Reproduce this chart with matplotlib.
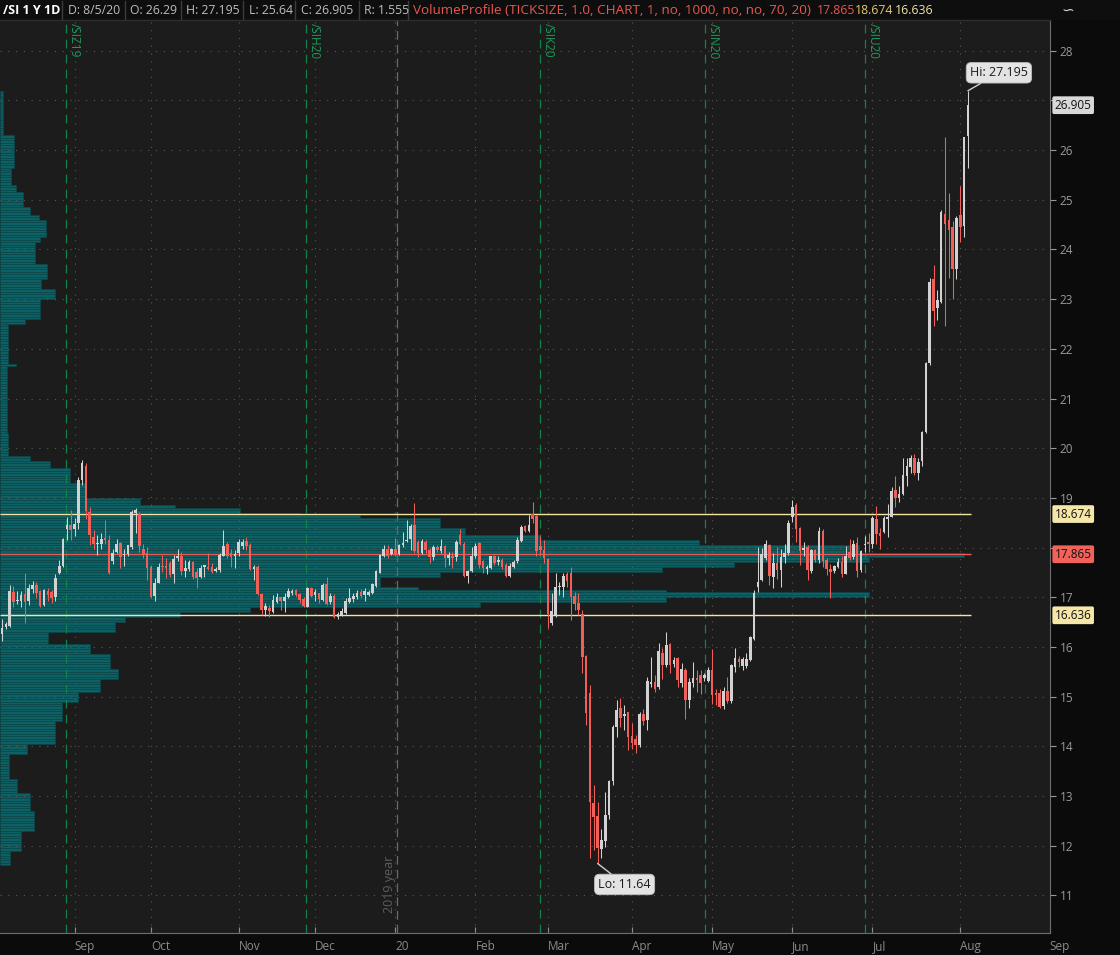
import numpy as np
import matplotlib
matplotlib.use("Agg")
import matplotlib.pyplot as plt
from matplotlib.patches import Rectangle
from matplotlib.lines import Line2D

plt.rcParams['font.family'] = ['Open Sans', 'DejaVu Sans']

# /SI daily bars, 6 Aug 2019 .. 5 Aug 2020 (x = trading-day index)
opens = [16.25, 16.41, 16.43, 17.10, 16.93, 16.93, 17.06, 16.92, 17.16, 17.24,
         17.12, 16.84, 17.13, 17.10, 17.01, 17.49, 17.63, 18.37, 18.45, 18.37,
         18.50, 19.35, 19.65, 18.72, 18.21, 18.07, 18.07, 18.19, 18.15, 17.73,
         17.92, 18.10, 17.85, 17.87, 18.02, 18.70, 18.67, 17.98, 17.90, 17.60,
         17.03, 17.29, 17.63, 17.63, 17.68, 17.47, 17.78, 17.82, 17.53, 17.56,
         17.70, 17.51, 17.41, 17.61, 17.61, 17.60, 17.53, 17.55, 17.83, 18.07,
         17.90, 17.83, 17.88, 18.03, 18.13, 18.05, 17.56, 17.61, 17.06, 16.74,
         16.79, 16.71, 16.91, 17.00, 16.93, 17.00, 17.09, 17.14, 17.06, 16.96,
         16.81, 17.19, 17.04, 17.08, 16.94, 17.26, 16.90, 17.03, 16.61, 16.64,
         16.69, 16.91, 16.96, 17.00, 17.10, 17.04, 17.04, 17.08, 17.23, 17.49,
         17.82, 17.98, 17.87, 17.98, 17.87, 18.05, 18.14, 18.17, 18.45, 18.12,
         17.90, 18.12, 17.96, 17.80, 18.02, 17.94, 18.03, 17.78, 17.83, 17.80,
         18.25, 18.08, 17.43, 17.53, 17.83, 18.10, 17.72, 17.57, 17.59, 17.82,
         17.70, 17.75, 17.65, 17.43, 17.61, 17.72, 18.14, 18.43, 18.34, 18.67,
         18.63, 18.03, 17.95, 17.77, 16.49, 16.64, 17.20, 17.21, 17.46, 17.48,
         17.02, 16.88, 16.67, 15.81, 15.08, 12.86, 12.59, 11.94, 12.09, 12.61,
         13.30, 14.39, 14.77, 14.61, 14.69, 14.21, 14.14, 14.02, 14.64, 14.53,
         15.26, 15.30, 15.20, 15.88, 15.63, 16.06, 15.65, 15.77, 15.28, 15.53,
         14.94, 15.28, 15.38, 15.44, 15.38, 15.32, 15.53, 15.08, 15.08, 14.81,
         15.11, 14.91, 15.60, 15.76, 15.61, 15.61, 15.73, 16.16, 17.21, 17.35,
         17.78, 18.05, 17.41, 17.68, 17.55, 17.80, 17.88, 18.61, 18.86, 18.39,
         17.95, 18.02, 17.53, 17.95, 17.74, 18.33, 17.75, 17.56, 17.52, 17.61,
         17.71, 17.47, 17.92, 17.80, 18.10, 17.55, 18.05, 18.12, 18.07, 18.57,
         18.30, 18.32, 18.57, 18.62, 19.16, 19.00, 19.07, 19.44, 19.63, 19.81,
         19.51, 19.75, 20.33, 21.71, 23.40, 22.82, 22.95, 24.72, 24.60, 24.45,
         23.60, 24.70, 24.47, 26.29]
highs = [16.57, 16.51, 17.24, 17.23, 17.13, 17.12, 17.48, 17.26, 17.33, 17.31,
         17.14, 17.16, 17.18, 17.14, 17.46, 17.75, 18.20, 18.61, 18.76, 18.59,
         19.43, 19.76, 19.70, 18.82, 18.35, 18.25, 18.29, 18.55, 18.25, 17.98,
         18.18, 18.12, 17.98, 18.05, 18.76, 18.79, 18.72, 18.08, 18.02, 17.65,
         17.38, 17.68, 17.85, 17.78, 17.72, 17.85, 17.98, 17.92, 17.75, 17.75,
         17.72, 17.58, 17.65, 17.65, 17.88, 17.68, 17.61, 17.88, 18.35, 18.12,
         17.98, 17.95, 18.18, 18.18, 18.22, 18.10, 17.65, 17.65, 17.08, 16.88,
         16.84, 17.04, 17.08, 17.01, 17.08, 17.18, 17.17, 17.16, 17.09, 17.01,
         17.21, 17.21, 17.16, 17.09, 17.28, 17.41, 17.08, 17.06, 16.71, 16.78,
         16.98, 17.18, 17.08, 17.14, 17.16, 17.18, 17.14, 17.29, 17.55, 17.86,
         18.05, 18.05, 18.00, 18.19, 18.08, 18.32, 18.55, 18.47, 18.89, 18.15,
         18.18, 18.15, 18.00, 18.05, 18.05, 18.18, 18.05, 17.92, 17.92, 18.15,
         18.37, 18.12, 17.55, 18.02, 18.10, 18.12, 17.75, 17.65, 17.83, 17.85,
         17.82, 17.78, 17.68, 17.68, 17.75, 18.22, 18.45, 18.45, 18.65, 18.92,
         18.65, 18.23, 18.15, 17.78, 17.08, 17.48, 17.31, 17.48, 17.51, 17.61,
         17.11, 17.09, 16.74, 15.83, 15.23, 13.22, 12.88, 12.34, 13.08, 13.32,
         14.42, 14.93, 14.98, 14.83, 14.69, 14.46, 14.22, 14.69, 14.74, 15.40,
         15.80, 15.43, 16.08, 15.97, 16.30, 16.08, 15.80, 15.79, 15.68, 15.57,
         15.37, 15.70, 15.53, 15.53, 15.47, 15.59, 15.95, 15.16, 15.16, 15.20,
         15.39, 15.65, 15.97, 15.81, 15.80, 15.87, 16.22, 17.14, 18.02, 18.00,
         18.16, 18.08, 17.88, 18.02, 17.98, 18.08, 18.55, 18.96, 18.90, 18.41,
         18.12, 18.05, 17.98, 17.98, 18.41, 18.37, 17.78, 17.66, 17.65, 17.78,
         17.82, 18.03, 18.18, 18.15, 18.22, 17.95, 18.23, 18.29, 18.64, 18.84,
         18.39, 18.63, 18.88, 19.21, 19.44, 19.23, 19.80, 19.80, 19.86, 19.88,
         19.80, 20.35, 21.74, 23.42, 23.68, 23.19, 24.80, 26.27, 25.13, 24.58,
         24.68, 25.27, 26.27, 27.195]
lows = [16.12, 16.35, 16.41, 16.81, 16.86, 16.81, 16.49, 16.84, 17.08, 16.98,
        16.81, 16.82, 16.93, 16.89, 16.93, 17.47, 17.61, 18.15, 18.15, 18.23,
        18.37, 19.26, 18.57, 18.05, 17.98, 17.85, 17.98, 18.08, 17.47, 17.67,
        17.90, 17.58, 17.63, 17.82, 17.98, 18.29, 17.92, 17.78, 17.35, 16.98,
        16.93, 17.28, 17.51, 17.38, 17.41, 17.29, 17.73, 17.45, 17.41, 17.53,
        17.36, 17.18, 17.38, 17.41, 17.55, 17.49, 17.51, 17.51, 17.82, 17.78,
        17.60, 17.58, 17.82, 17.98, 17.95, 17.55, 17.35, 17.04, 16.64, 16.62,
        16.61, 16.69, 16.89, 16.75, 16.71, 16.98, 17.04, 17.02, 16.89, 16.81,
        16.81, 17.01, 16.93, 16.88, 16.93, 16.84, 16.86, 16.59, 16.56, 16.62,
        16.67, 16.89, 16.90, 16.96, 16.98, 16.93, 17.02, 17.06, 17.20, 17.48,
        17.80, 17.78, 17.85, 17.83, 17.85, 18.02, 18.12, 17.96, 17.88, 17.80,
        17.87, 17.90, 17.68, 17.75, 17.92, 17.88, 17.61, 17.65, 17.58, 17.72,
        18.05, 17.41, 17.28, 17.51, 17.78, 17.58, 17.49, 17.47, 17.56, 17.65,
        17.65, 17.56, 17.41, 17.41, 17.58, 17.68, 18.12, 18.32, 18.32, 18.50,
        17.82, 17.85, 17.68, 16.39, 16.44, 16.61, 17.04, 17.01, 17.21, 16.54,
        16.74, 16.64, 15.47, 14.42, 11.74, 11.91, 11.64, 11.74, 11.97, 12.54,
        13.22, 14.19, 14.39, 14.32, 13.93, 13.95, 13.87, 13.99, 14.42, 14.32,
        15.20, 15.10, 15.16, 15.36, 15.60, 15.47, 15.60, 15.20, 15.20, 14.54,
        14.76, 15.20, 15.10, 15.06, 15.32, 15.30, 14.85, 14.83, 14.76, 14.74,
        14.87, 14.88, 15.50, 15.60, 15.53, 15.57, 15.72, 16.14, 17.11, 17.33,
        17.74, 17.25, 17.18, 17.36, 17.21, 17.68, 17.85, 18.52, 18.12, 17.65,
        17.83, 17.35, 17.48, 17.70, 17.68, 17.60, 17.45, 16.98, 17.49, 17.58,
        17.40, 17.46, 17.75, 17.76, 17.41, 17.51, 17.92, 17.92, 18.00, 18.08,
        17.98, 18.29, 18.22, 18.61, 18.82, 18.92, 19.06, 19.23, 19.51, 19.46,
        19.35, 19.64, 20.31, 21.68, 22.46, 22.58, 22.92, 22.45, 23.42, 23.00,
        23.40, 24.16, 24.25, 25.64]
closes = [16.39, 16.47, 17.12, 16.90, 16.94, 17.04, 16.90, 17.18, 17.24, 17.08,
          16.83, 17.14, 17.04, 16.99, 17.39, 17.63, 18.17, 18.45, 18.35, 18.47,
          19.36, 19.71, 18.74, 18.25, 18.07, 18.08, 18.18, 18.15, 17.48, 17.90,
          18.08, 17.80, 17.86, 18.05, 18.72, 18.76, 18.03, 17.85, 17.58, 17.01,
          17.29, 17.60, 17.60, 17.59, 17.45, 17.77, 17.82, 17.53, 17.58, 17.70,
          17.41, 17.38, 17.58, 17.64, 17.56, 17.51, 17.57, 17.84, 18.03, 17.83,
          17.80, 17.87, 18.12, 18.11, 18.04, 17.56, 17.61, 17.06, 16.74, 16.82,
          16.72, 16.94, 17.01, 16.92, 17.01, 17.12, 17.12, 17.04, 16.94, 16.83,
          17.18, 17.03, 17.10, 16.96, 17.25, 16.86, 17.03, 16.61, 16.66, 16.72,
          16.92, 16.98, 17.02, 17.09, 17.03, 17.12, 17.11, 17.27, 17.53, 17.85,
          17.98, 17.82, 17.98, 17.87, 18.06, 18.10, 18.16, 18.43, 17.94, 17.90,
          18.13, 17.95, 17.80, 18.02, 17.95, 18.04, 17.78, 17.84, 17.78, 18.12,
          18.08, 17.43, 17.53, 17.83, 18.03, 17.65, 17.58, 17.60, 17.82, 17.68,
          17.75, 17.61, 17.43, 17.63, 17.71, 18.15, 18.42, 18.34, 18.45, 18.57,
          17.94, 17.95, 17.78, 16.67, 16.72, 17.21, 17.23, 17.43, 17.33, 17.01,
          16.86, 16.74, 15.80, 14.67, 12.88, 12.58, 11.96, 12.12, 12.61, 13.30,
          14.39, 14.73, 14.57, 14.65, 14.19, 14.07, 14.02, 14.64, 14.51, 15.31,
          15.29, 15.16, 15.92, 15.63, 16.04, 15.63, 15.73, 15.33, 15.55, 14.94,
          15.30, 15.38, 15.34, 15.28, 15.43, 15.53, 15.04, 15.03, 14.79, 15.11,
          14.91, 15.63, 15.77, 15.69, 15.75, 15.75, 16.20, 17.09, 17.31, 17.87,
          18.07, 17.43, 17.69, 17.55, 17.80, 17.90, 18.49, 18.81, 18.38, 17.94,
          18.00, 17.55, 17.95, 17.74, 18.33, 17.73, 17.56, 17.51, 17.63, 17.71,
          17.47, 17.83, 17.78, 18.08, 17.53, 17.93, 18.08, 18.07, 18.59, 18.27,
          18.23, 18.60, 18.62, 19.14, 19.00, 19.08, 19.46, 19.64, 19.81, 19.51,
          19.73, 20.33, 21.72, 23.34, 22.77, 22.98, 24.75, 24.52, 24.39, 23.60,
          24.63, 24.45, 26.26, 26.905]

month_ticks = [19, 39, 62, 82, 103, 124, 143, 165, 186, 207, 228, 251, 274.4]
month_labels = ['Sep', 'Oct', 'Nov', 'Dec', '20', 'Feb', 'Mar', 'Apr', 'May',
                'Jun', 'Jul', 'Aug', 'Sep']
rollover_pos = [16.8, 79.6, 140.9, 184.1, 226.0]
rollover_names = ['/SIZ19', '/SIH20', '/SIK20', '/SIN20', '/SIU20']
year_break = 103.5

poc = 17.865
va_high = 18.674
va_low = 16.636

# volume profile: band edges (price) and relative volume per band
profile_edges = [11.60, 11.90, 12.30, 12.70, 13.05, 13.35, 13.85, 14.05, 14.50, 14.90,
                 15.10, 15.35, 15.55, 15.85, 16.05, 16.30, 16.50, 16.60, 16.70, 16.80,
                 16.90, 16.98, 17.10, 17.15, 17.20, 17.40, 17.50, 17.60, 17.70, 17.80,
                 17.90, 18.05, 18.15, 18.25, 18.40, 18.60, 18.65, 18.72, 18.80, 18.86,
                 19.00, 19.30, 19.60, 19.76, 19.86, 20.30, 21.65, 21.72, 22.48, 22.58,
                 23.00, 23.20, 23.40, 23.70, 24.13, 24.23, 24.60, 24.70, 24.85, 25.15,
                 25.30, 25.65, 26.30, 27.20]
profile_volume = [10, 21, 34, 30, 17, 9, 27, 55, 62, 78,
                  100, 118, 110, 90, 48, 115, 125, 180, 250, 480,
                  667, 870, 667, 418, 380, 440, 663, 735, 870, 965,
                  860, 700, 540, 465, 440, 360, 300, 240, 175, 140,
                  85, 70, 50, 30, 8, 7, 16, 8, 25, 40,
                  55, 41, 47, 35, 40, 46, 39, 30, 23, 16,
                  11, 14, 3]

W, H = 1120, 955
fig = plt.figure(figsize=(W / 100, H / 100), dpi=100)
fig.patch.set_facecolor('#0b0b0b')
ax = fig.add_axes([0, 22 / H, 1050 / W, 913 / H])
ax.set_facecolor('#1c1c1c')
x0, x1 = -0.52, 274.5
ax.set_xlim(x0, x1)
ax.set_ylim(10.24, 28.62)

# profile rows
edges = np.array(profile_edges)
vols = np.array(profile_volume, dtype=float)
row = 0.05
levels = np.arange(edges[0], edges[-1] - 1e-9, row)
band = np.clip(np.searchsorted(edges, levels + row / 2) - 1, 0, len(vols) - 1)
widths = vols[band] / vols.max() * 252.5
ax.barh(levels + row / 2, widths, height=row, left=x0, color='#0d6063',
        edgecolor='#0a474a', linewidth=0.4, zorder=1)

# dotted grid
for v in range(11, 29):
    ax.axhline(v, color='#585858', lw=0.8, ls=(0, (1, 6)), zorder=2)
for m in month_ticks[:-1]:
    ax.axvline(m, color='#585858', lw=0.8, ls=(0, (1, 6)), zorder=2)

# contract rollovers and year break
for pos, name in zip(rollover_pos, rollover_names):
    ax.axvline(pos, color='#13814a', lw=0.9, ls=(0, (7, 5)), zorder=2.2)
    ax.text(pos + 0.5, 28.56, name, rotation=270, ha='left', va='top',
            color='#1b9a58', fontsize=8.5, zorder=5)
ax.axvline(year_break, color='#6a6a6a', lw=0.9, ls=(0, (7, 4)), zorder=2.2)
ax.text(year_break - 0.3, 10.64, '2019 year', rotation=90, ha='right', va='bottom',
        color='#5e5e5e', fontsize=9, zorder=5)

# value area / POC lines
n = len(opens)
end = n - 0.2
ax.hlines([va_high, va_low], x0, end, colors='#f3e4a3', lw=1, zorder=2.8)
ax.hlines(poc, x0, end, colors='#ee5a52', lw=1, zorder=2.8)

# candles
x = np.arange(n)
o, h, l, c = (np.array(a) for a in (opens, highs, lows, closes))
col = np.where(c >= o, '#d2d2d2', '#f25f58')
ax.vlines(x, l, h, colors=col, lw=0.75, zorder=3)
ax.bar(x, np.maximum(np.abs(c - o), 0.02), bottom=np.minimum(o, c), width=0.68,
       color=col, linewidth=0, zorder=3.1)

# hi / lo callouts
box = dict(boxstyle='round,pad=0.3,rounding_size=0.4', fc='#e3e3e3', ec='#bcbcbc', lw=0.6)
arr = dict(arrowstyle='-', color='#d0d0d0', lw=1, shrinkA=0, shrinkB=0)
ih = int(np.argmax(h))
il = int(np.argmin(l))
ax.annotate(f'Hi: {h[ih]:g}', xy=(ih, h[ih]), xytext=(31, 18), textcoords='offset pixels',
            ha='center', va='center', fontsize=9, color='#1a1a1a', bbox=box,
            arrowprops=arr, zorder=8, annotation_clip=False)
ax.annotate(f'Lo: {l[il]:g}', xy=(il, l[il]), xytext=(27, -21), textcoords='offset pixels',
            ha='center', va='center', fontsize=9, color='#1a1a1a', bbox=box,
            arrowprops=arr, zorder=8)

# axes styling
for s in ('top', 'left'):
    ax.spines[s].set_visible(False)
for s in ('right', 'bottom'):
    ax.spines[s].set_color('#6e6e6e')
ax.yaxis.tick_right()
yt = list(range(11, 29))
ax.set_yticks(yt)
ax.set_yticklabels(['' if v in (18, 27) else str(v) for v in yt])
ax.tick_params(axis='y', colors='#9a9a9a', labelsize=8.5, length=4, width=0.8,
               pad=3, direction='out')
ax.set_xticks(month_ticks)
ax.set_xticklabels(month_labels)
for lbl in ax.get_xticklabels():
    lbl.set_ha('left')
ax.tick_params(axis='x', colors='#8c8c8c', labelsize=8.5, length=4, width=0.8,
               pad=5, direction='in')

# price tags on the right scale
tags = [(closes[-1], '#d8d8d8'), (va_high, '#f6e7a8'), (poc, '#f0625a'), (va_low, '#f6e7a8')]
for val, fc in tags:
    ax.text(1.0045, val, f'{val:g}', transform=ax.get_yaxis_transform(), ha='left',
            va='center', fontsize=8.5, color='#111111', zorder=10, clip_on=False,
            bbox=dict(boxstyle='round,pad=0.2,rounding_size=0.15', fc=fc, ec='none'))

# header strip
fig.patches.append(Rectangle((0, 1 - 20 / H), 1, 20 / H, transform=fig.transFigure,
                             fc='#0e0e0e', ec='none', zorder=0))
for sx in (62, 125, 181, 243, 295, 359, 408):
    fig.add_artist(Line2D([sx / W, sx / W], [1 - 1 / H, 1 - 19 / H], color='#3c3c3c', lw=1))
fig.add_artist(Line2D([0, 1050 / W], [1 - 20 / H, 1 - 20 / H], color='#2e2e2e', lw=1))

hy = 1 - 10 / H
fig.text(3 / W, hy, '/SI 1 Y 1D', color='white', fontsize=9, fontweight='bold', va='center')
hdr = [(68, 'D: 8/5/20'), (130, f'O: {opens[-1]:g}'), (186, f'H: {highs[-1]:g}'),
       (249, f'L: {lows[-1]:g}'), (301, f'C: {closes[-1]:g}'),
       (364, f'R: {highs[-1] - lows[-1]:.3f}')]
for hx, t in hdr:
    fig.text(hx / W, hy, t, color='#bdbdbd', fontsize=8.8, va='center')
fig.text(413 / W, hy, 'VolumeProfile (TICKSIZE, 1.0, CHART, 1, no, 1000, no, no, 70, 20)',
         color='#e8574f', fontsize=9.7, va='center')
fig.text(817 / W, hy, f'{poc:g}', color='#e8574f', fontsize=8.8, va='center')
fig.text(855 / W, hy, f'{va_high:g}', color='#e6c873', fontsize=8.8, va='center')
fig.text(895 / W, hy, f'{va_low:g}', color='#f1e3a6', fontsize=8.8, va='center')
fig.text(1068 / W, hy, '\u223d', color='#d0d0d0', fontsize=11, va='center', ha='center',
         family='DejaVu Sans')

fig.savefig('out.png', dpi=100, facecolor=fig.get_facecolor())
